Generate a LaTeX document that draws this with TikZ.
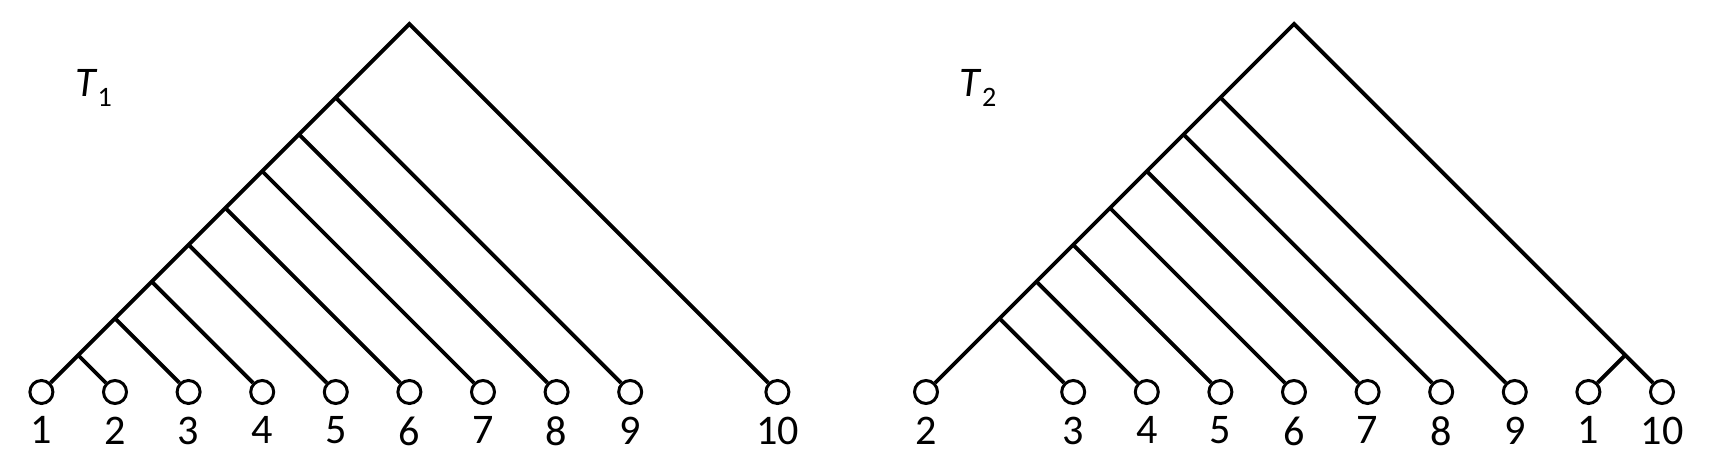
\documentclass[tikz,border=0pt]{standalone}
\usepackage{fontspec}
\setmainfont{Carlito}
\begin{document}
\begin{tikzpicture}[
        x=1.472cm, y=1.472cm, % step between leaves
        edge/.style = {line width=2.2pt},
        leaf/.style = {circle, draw, line width=1.7pt, minimum size=0.46cm, inner sep=0pt}, % leaf nodes
        every label/.style = {inner sep=0pt, font=\fontsize{24}{28}\selectfont},
        label distance=0.23cm,
        tname/.style = {anchor=base west, inner sep=0pt, font=\fontsize{24}{28}\selectfont},
    ]
    \useasboundingbox (0,0) rectangle (34.2cm,9.12cm);

    % tree T1
    \node[tname] (t1) at (1.5cm,7.18cm) {\textit{T}\raisebox{-0.2cm}{\fontsize{16}{16}\selectfont 1}};
    \begin{scope}[shift={(0.828cm,1.28cm)}]
    \node[leaf, label=below:1] (a1) at (0,0) {};
    \node[leaf, label=below:2] (a2) at (1,0) {};
    \node[leaf, label=below:3] (a3) at (2,0) {};
    \node[leaf, label=below:4] (a4) at (3,0) {};
    \node[leaf, label=below:5] (a5) at (4,0) {};
    \node[leaf, label=below:6] (a6) at (5,0) {};
    \node[leaf, label=below:7] (a7) at (6,0) {};
    \node[leaf, label=below:8] (a8) at (7,0) {};
    \node[leaf, label=below:9] (a9) at (8,0) {};
    \node[leaf, label=below:10] (a10) at (10,0) {};
    \coordinate (p2) at (0.5,0.5);
    \coordinate (p3) at (1,1);
    \coordinate (p4) at (1.5,1.5);
    \coordinate (p5) at (2,2);
    \coordinate (p6) at (2.5,2.5);
    \coordinate (p7) at (3,3);
    \coordinate (p8) at (3.5,3.5);
    \coordinate (p9) at (4,4);
    \coordinate (r1) at (5,5);
    \draw[edge] (a1) -- (r1) -- (a10);
    \draw[edge] (a2) -- (p2);
    \draw[edge] (a3) -- (p3);
    \draw[edge] (a4) -- (p4);
    \draw[edge] (a5) -- (p5);
    \draw[edge] (a6) -- (p6);
    \draw[edge] (a7) -- (p7);
    \draw[edge] (a8) -- (p8);
    \draw[edge] (a9) -- (p9);
    \end{scope}

    % tree T2
    \node[tname] (t2) at (19.19cm,7.18cm) {\textit{T}\raisebox{-0.2cm}{\fontsize{16}{16}\selectfont 2}};
    \begin{scope}[shift={(18.52cm,1.28cm)}]
    \node[leaf, label=below:2] (b2) at (0,0) {};
    \node[leaf, label=below:3] (b3) at (2,0) {};
    \node[leaf, label=below:4] (b4) at (3,0) {};
    \node[leaf, label=below:5] (b5) at (4,0) {};
    \node[leaf, label=below:6] (b6) at (5,0) {};
    \node[leaf, label=below:7] (b7) at (6,0) {};
    \node[leaf, label=below:8] (b8) at (7,0) {};
    \node[leaf, label=below:9] (b9) at (8,0) {};
    \node[leaf, label=below:1] (b1) at (9,0) {};
    \node[leaf, label=below:10] (b10) at (10,0) {};
    \coordinate (q3) at (1,1);
    \coordinate (q4) at (1.5,1.5);
    \coordinate (q5) at (2,2);
    \coordinate (q6) at (2.5,2.5);
    \coordinate (q7) at (3,3);
    \coordinate (q8) at (3.5,3.5);
    \coordinate (q9) at (4,4);
    \coordinate (q1) at (9.5,0.5);
    \coordinate (r2) at (5,5);
    \draw[edge] (b2) -- (r2) -- (b10);
    \draw[edge] (b3) -- (q3);
    \draw[edge] (b4) -- (q4);
    \draw[edge] (b5) -- (q5);
    \draw[edge] (b6) -- (q6);
    \draw[edge] (b7) -- (q7);
    \draw[edge] (b8) -- (q8);
    \draw[edge] (b9) -- (q9);
    \draw[edge] (b1) -- (q1);
    \end{scope}
\end{tikzpicture}
\end{document}
